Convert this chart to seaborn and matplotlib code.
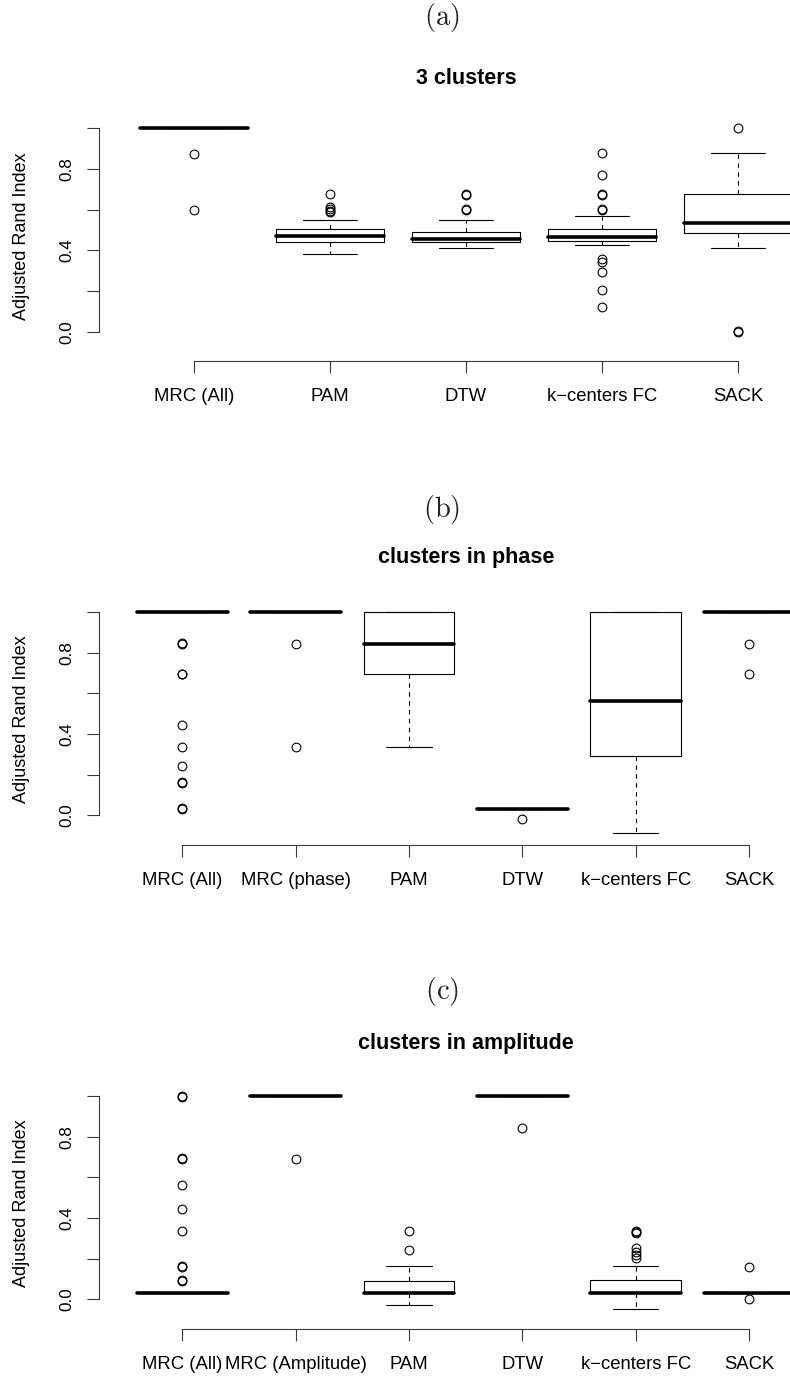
import numpy as np
import matplotlib
matplotlib.use("Agg")
import matplotlib.pyplot as plt
import seaborn as sns

# ---------------------------------------------------------------------------
# Box summaries (Adjusted Rand Index) for each method, one block per scenario
# ---------------------------------------------------------------------------

# (a) 3 clusters
labels_a = ["MRC (All)", "PAM", "DTW", "k\u2212centers FC", "SACK"]
q1_a = [1.000, 0.443, 0.440, 0.446, 0.484]
med_a = [1.000, 0.472, 0.456, 0.466, 0.533]
q3_a = [1.000, 0.503, 0.492, 0.503, 0.677]
lo_a = [1.000, 0.382, 0.413, 0.428, 0.413]
hi_a = [1.000, 0.548, 0.548, 0.569, 0.877]
out_a = [
    [0.875, 0.597],
    [0.675, 0.615, 0.603, 0.595, 0.590],
    [0.672, 0.675, 0.598, 0.601],
    [0.877, 0.769, 0.675, 0.672, 0.601, 0.597, 0.359, 0.341, 0.295, 0.203, 0.120],
    [1.000, 0.000, 0.003],
]

# (b) clusters in phase
labels_b = ["MRC (All)", "MRC (phase)", "PAM", "DTW", "k\u2212centers FC", "SACK"]
q1_b = [1.000, 1.000, 0.694, 0.031, 0.292, 1.000]
med_b = [1.000, 1.000, 0.842, 0.031, 0.562, 1.000]
q3_b = [1.000, 1.000, 1.000, 0.031, 1.000, 1.000]
lo_b = [1.000, 1.000, 0.336, 0.031, -0.085, 1.000]
hi_b = [1.000, 1.000, 1.000, 0.031, 1.000, 1.000]
out_b = [
    [0.842, 0.845, 0.694, 0.697, 0.443, 0.336, 0.243, 0.160, 0.163, 0.031, 0.034],
    [0.842, 0.336],
    [],
    [-0.017],
    [],
    [0.842, 0.694],
]

# (c) clusters in amplitude
labels_c = ["MRC (All)", "MRC (Amplitude)", "PAM", "DTW", "k\u2212centers FC", "SACK"]
q1_c = [0.033, 1.000, 0.033, 1.000, 0.030, 0.033]
med_c = [0.033, 1.000, 0.033, 1.000, 0.033, 0.033]
q3_c = [0.033, 1.000, 0.090, 1.000, 0.095, 0.033]
lo_c = [0.033, 1.000, -0.028, 1.000, -0.046, 0.033]
hi_c = [0.033, 1.000, 0.164, 1.000, 0.164, 0.033]
out_c = [
    [1.000, 0.997, 0.690, 0.693, 0.560, 0.445, 0.335, 0.160, 0.163, 0.092, 0.095],
    [0.690],
    [0.335, 0.240],
    [0.840],
    [0.335, 0.330, 0.326, 0.250, 0.235, 0.220, 0.205],
    [0.160, 0.000],
]

panel_tags = ["(a)", "(b)", "(c)"]
titles = ["3 clusters", "clusters in phase", "clusters in amplitude"]
y_label = "Adjusted Rand Index"
y_ticks = [0.0, 0.2, 0.4, 0.6, 0.8, 1.0]
y_ticklabels = ["0.0", "", "0.4", "", "0.8", ""]

# ---------------------------------------------------------------------------
sns.set_theme(style="ticks")
plt.rcParams["font.family"] = ["Liberation Sans", "DejaVu Sans"]

W, H = 790, 1380
fig = plt.figure(figsize=(W / 100, H / 100), dpi=100)
fig.patch.set_facecolor("white")

AXIS_GREY = "#3a3a3a"


def axes_px(left, top, width, height):
    return fig.add_axes([left / W, 1 - (top + height) / H, width / W, height / H])


def build_stats(labels, q1, med, q3, lo, hi, out):
    return [
        dict(label=l, q1=a, med=m, q3=b, whislo=wl, whishi=wh, fliers=np.asarray(f))
        for l, a, m, b, wl, wh, f in zip(labels, q1, med, q3, lo, hi, out)
    ]


def draw_panel(ax, stats, xlim):
    n = len(stats)
    pos = np.arange(1, n + 1)
    ax.bxp(
        stats,
        positions=pos,
        widths=0.8,
        capwidths=0.4,
        manage_ticks=False,
        boxprops=dict(color="black", linewidth=0.8),
        medianprops=dict(color="black", linewidth=2.6, solid_capstyle="round"),
        whiskerprops=dict(color="black", linewidth=0.8, linestyle=(0, (4, 4))),
        capprops=dict(color="black", linewidth=0.8),
        flierprops=dict(marker="o", markerfacecolor="none", markeredgecolor="black",
                        markersize=6.3, markeredgewidth=0.8, linestyle="none"),
    )
    ax.set_xlim(*xlim)
    ax.set_ylim(-0.144, 1.044)
    ax.set_facecolor("white")
    ax.grid(False)
    sns.despine(ax=ax)
    for side in ("left", "bottom"):
        ax.spines[side].set_color(AXIS_GREY)
        ax.spines[side].set_linewidth(0.8)
    ax.spines["left"].set_bounds(0, 1)
    ax.spines["bottom"].set_bounds(1, n)

    ax.set_yticks(y_ticks, y_ticklabels)
    ax.set_xticks(pos, [s["label"] for s in stats])
    ax.tick_params(axis="y", length=8.6, width=0.8, color=AXIS_GREY, pad=9,
                   labelsize=12.3, labelcolor="black", labelrotation=90)
    ax.tick_params(axis="x", length=8.6, width=0.8, color=AXIS_GREY, pad=11,
                   labelsize=13.3, labelcolor="black")
    for lbl in ax.get_yticklabels():
        lbl.set_va("center")


panels = [
    (build_stats(labels_a, q1_a, med_a, q3_a, lo_a, hi_a, out_a), 98.8, 734.4, 331.7, (0.3, 5.7)),
    (build_stats(labels_b, q1_b, med_b, q3_b, lo_b, hi_b, out_b), 98.6, 734.2, 815.3, (0.26, 6.74)),
    (build_stats(labels_c, q1_c, med_c, q3_c, lo_c, hi_c, out_c), 98.6, 734.2, 1299.3, (0.26, 6.74)),
]
tag_y = [18, 509, 992]
title_y = [78, 558, 1043]

UNIT = 203.4  # pixels per unit of the index
for i, (stats, left, width, zero_px, xlim) in enumerate(panels):
    top = zero_px - 1.044 * UNIT
    height = 1.188 * UNIT
    ax = axes_px(left, top, width, height)
    draw_panel(ax, stats, xlim)

    centre_x = (left + width / 2) / W
    fig.text(centre_x, 1 - title_y[i] / H, titles[i], ha="center", va="center",
             fontsize=15.5, fontweight="bold", color="black")
    fig.text(442 / W, 1 - tag_y[i] / H, r"$\mathrm{%s}$" % panel_tags[i],
             ha="center", va="center", fontsize=20.5, math_fontfamily="cm",
             color="#222222")
    fig.text(21.7 / W, 1 - (zero_px - 95.7) / H, y_label, rotation=90,
             ha="center", va="center", fontsize=13, color="black")

fig.savefig("out.png", dpi=100, facecolor="white")
